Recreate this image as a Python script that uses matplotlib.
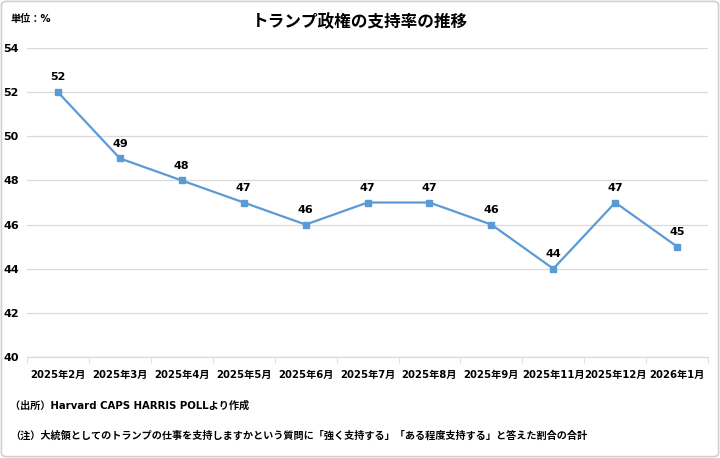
import matplotlib.pyplot as plt
from matplotlib.patches import FancyBboxPatch
import numpy as np

plt.rcParams['font.family'] = ['DejaVu Sans', 'Noto Sans CJK JP']
plt.rcParams['font.weight'] = 'bold'

# データ
months = ['2025年2月', '2025年3月', '2025年4月', '2025年5月', '2025年6月', '2025年7月',
          '2025年8月', '2025年9月', '2025年11月', '2025年12月', '2026年1月']
approval = [52, 49, 48, 47, 46, 47, 47, 46, 44, 47, 45]
y_ticks = [40, 42, 44, 46, 48, 50, 52, 54]

blue = '#5B9BD5'
x = np.arange(len(months))

fig = plt.figure(figsize=(7.2, 4.58), dpi=100)
ax = fig.add_axes([0.0375, 0.2205, 0.946, 0.6746])

# 外枠
fig.patches.append(FancyBboxPatch((0.002, 0.003), 0.996, 0.994, boxstyle='round,pad=0,rounding_size=0.008',
                                  transform=fig.transFigure, fill=False, edgecolor='#D0D0D0', linewidth=1.2))

ax.plot(x, approval, color=blue, linewidth=1.6, marker='s', markersize=4, zorder=3)
for xi, v in zip(x, approval):
    ax.annotate(str(v), (xi, v), xytext=(0, 7), textcoords='offset points',
                ha='center', va='bottom', fontsize=8, fontweight='bold')

ax.set_xlim(-0.5, len(months) - 0.5)
ax.set_ylim(40, 54)
ax.set_yticks(y_ticks)
ax.set_yticklabels([str(t) for t in y_ticks], fontsize=8, fontweight='bold')
ax.set_xticks(x)
ax.set_xticklabels(months, fontsize=7.3, fontweight='bold')
ax.set_xticks(np.arange(len(months) + 1) - 0.5, minor=True)

ax.grid(axis='y', color='#D9D9D9', linewidth=0.9)
ax.set_axisbelow(True)
for s in ['top', 'right', 'left']:
    ax.spines[s].set_visible(False)
ax.spines['bottom'].set_color('#D9D9D9')
ax.spines['bottom'].set_linewidth(0.9)
ax.tick_params(axis='y', length=0, pad=17)
ax.tick_params(axis='x', which='major', length=0, pad=9)
ax.tick_params(axis='x', which='minor', length=4, color='#D9D9D9')
for lbl in ax.get_yticklabels():
    lbl.set_horizontalalignment('left')

fig.text(0.5, 0.952, 'トランプ政権の支持率の推移', ha='center', va='center', fontsize=12, fontweight='bold')
fig.text(0.014, 0.958, '単位：%', ha='left', va='center', fontsize=7.3, fontweight='bold')
fig.text(0.014, 0.115, '（出所）Harvard CAPS HARRIS POLLより作成', ha='left', va='center', fontsize=7.3, fontweight='bold')
fig.text(0.014, 0.048, '（注）大統領としてのトランプの仕事を支持しますかという質問に「強く支持する」「ある程度支持する」と答えた割合の合計',
         ha='left', va='center', fontsize=7.3, fontweight='bold')

fig.savefig('out.png', dpi=100)
